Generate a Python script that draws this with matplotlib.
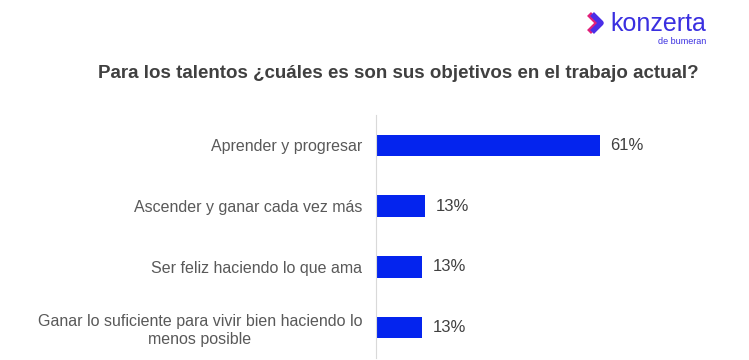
import matplotlib.pyplot as plt
from matplotlib.lines import Line2D

plt.rcParams['font.family'] = ['Liberation Sans', 'DejaVu Sans']

categories = ['Aprender y progresar',
              'Ascender y ganar cada vez más',
              'Ser feliz haciendo lo que ama',
              'Ganar lo suficiente para vivir bien haciendo lo\nmenos posible']
values = [61, 13.4, 12.6, 12.6]
title = 'Para los talentos ¿cuáles es son sus objetivos en el trabajo actual?'

fig = plt.figure(figsize=(7.49, 3.60), dpi=100)
ax = fig.add_axes([376 / 749, 2 / 360, 367 / 749, 243 / 360])

ypos = list(range(len(categories)))
bars = ax.barh(ypos, values, height=0.35, color='#0424EE')
ax.set_ylim(len(categories) - 0.5, -0.5)
ax.set_xlim(0, 100)

ax.set_yticks(ypos)
ax.set_yticklabels(categories, fontsize=11.5, color='#595959',
                   multialignment='center', linespacing=1.25)
ax.tick_params(axis='y', length=0, pad=10)
ax.set_xticks([])

for b, v in zip(bars, values):
    ax.text(b.get_width() + 2.8, b.get_y() + b.get_height() / 2, f'{round(v)}%',
            va='center', ha='left', fontsize=12, color='#404040')

for s in ['top', 'right', 'bottom']:
    ax.spines[s].set_visible(False)
ax.spines['left'].set_color('#d9d9d9')

fig.text(398 / 749, 1 - 74 / 360, title, ha='center', va='center',
         fontsize=13.5, fontweight='bold', color='#404040')

# logo
fig.add_artist(Line2D([589 / 749, 598 / 749, 589 / 749], [1 - 14 / 360, 1 - 23 / 360, 1 - 32 / 360],
                      color='#e0207a', lw=4, solid_capstyle='butt'))
fig.add_artist(Line2D([592 / 749, 601 / 749, 592 / 749], [1 - 14 / 360, 1 - 23 / 360, 1 - 32 / 360],
                      color='#4a2ee8', lw=4, solid_capstyle='butt'))
fig.text(610 / 749, 1 - 24 / 360, 'konzerta', ha='left', va='center',
         fontsize=18, color='#3a2fe0')
fig.text(706 / 749, 1 - 42 / 360, 'de bumeran', ha='right', va='center',
         fontsize=6.5, color='#3a2fe0')

fig.savefig('out.png', dpi=100)
